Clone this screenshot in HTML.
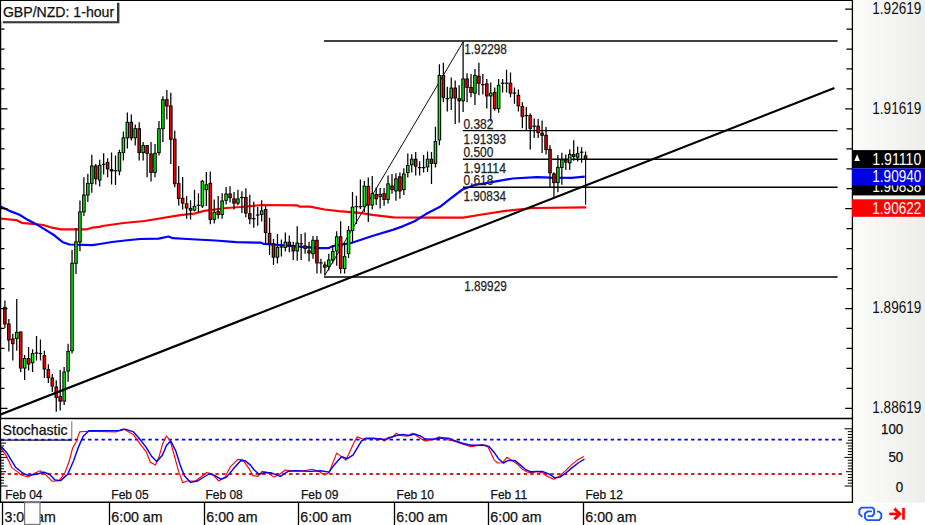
<!DOCTYPE html><html><head><meta charset="utf-8"><title>GBP/NZD 1-hour</title><style>
html,body{margin:0;padding:0;background:#fff;}
body{width:925px;height:525px;overflow:hidden;position:relative;}
svg{position:absolute;left:0;top:0;display:block;}
text{font-family:'Liberation Sans', Arial, sans-serif;}
.tx{stroke-width:0.25px;paint-order:stroke;}
</style></head><body>
<svg width="925" height="525" viewBox="0 0 925 525">
<defs><linearGradient id="axg" x1="0" y1="0" x2="1" y2="0"><stop offset="0" stop-color="#fcfcfb"/><stop offset="0.35" stop-color="#f7f7f6"/><stop offset="1" stop-color="#ededea"/></linearGradient><clipPath id="cp1"><rect x="852" y="185.2" width="73" height="10.2"/></clipPath></defs>
<rect x="853" y="0" width="72" height="502.5" fill="url(#axg)"/>
<polyline points="0,218.5 16.3,220.1 21.7,222.8 32.6,223.9 43.4,225 52.1,227.7 60.8,229.3 86.9,229.3 92.3,227.7 99.9,226.9 102.3,226 123.5,223 144.6,221 180,215.1 194,213.7 204,210.9 226.5,208 240.6,207 261.8,205 297,205.3 300,206.7 310,206.7 324.6,209.5 338.7,211.2 359.9,212.8 372.3,214.9 393.5,217.4 430,217.7 463.1,217.7 485.1,214 507.2,210.7 533,208 586.3,207.4" fill="none" stroke="#ff0000" stroke-width="2.2" stroke-linejoin="round"/>
<polyline points="0,206.2 10.9,211.4 19.5,214.7 28.2,220.1 35.8,223.9 45.6,229.9 54.3,235.3 63,242.3 69.5,244.5 92.3,245.1 99.9,244 112,242 125,240.5 140,239 158.7,238.6 168.6,236.5 172.8,238.2 187,239 215.3,240.5 236.4,242.2 261.2,242.7 264,243.9 319,248.1 328.9,248.1 333.1,246 351.2,243 372.3,236 393.5,229.6 403.3,226.1 414.6,221.2 425.9,214.1 440,206.8 450.4,198.7 462.5,189.5 474.6,185 491.9,182.1 512.7,178.5 536.9,177.1 550.7,177.6 571.5,177.8 584.8,176.6" fill="none" stroke="#0000ff" stroke-width="2.2" stroke-linejoin="round"/>
<g stroke="#000" stroke-width="1.4" fill="none">
<line x1="324.0" y1="41" x2="837.6" y2="41"/>
<line x1="324.0" y1="277" x2="837.6" y2="277"/>
<line x1="462.9" y1="130.6" x2="837.6" y2="130.6"/>
<line x1="462.9" y1="159.2" x2="837.6" y2="159.2"/>
<line x1="462.9" y1="187.2" x2="837.6" y2="187.2"/>
</g>
<line x1="324.8" y1="275.3" x2="463.2" y2="41.8" stroke="#000" stroke-width="0.95"/>
<path d="M4.9 300.4V328M8.85 319V351.4M12.8 333.8V360.6M16.75 299V350.7M20.7 331.4V372M24.65 355V380M28.6 347V370.5M32.55 349.3V371.9M36.5 336V360.6M40.45 339.4V360.6M44.4 350.7V378M48.35 364.3V383M52.3 373.9V392M56.25 380.3V411.7M60.2 370V410.6M64.15 367V405M68.1 343.7V381.7M72.05 249.9V353.5M76 228V273.9M79.95 200.6V251.3M83.9 177.3V216M87.85 173.8V202M91.8 154.8V192.8M95.75 164V184.4M99.7 159.7V186.5M103.65 153.3V174.5M107.6 158.3V177.3M111.55 152.6V184.4M115.5 155.5V185M119.45 149.8V175.2M123.4 131.5V160.4M127.35 112.4V148.4M131.3 114.6V140.6M135.25 124.4V145.6M139.2 122.3V160.4M143.15 142V160.4M147.1 144.9V177.3M151.05 142V181.6M155 144V177.3M158.95 120.9V155.5M162.9 96.2V142M166.85 89.9V119.5M170.8 92.7V164M174.75 130.8V187.2M178.7 166V205.5M182.65 177V209.5M186.6 196V218.7M190.55 200.3V219.4M194.5 189.7V211.6M198.45 193.3V212.3M202.4 180V208M206.35 172.1V206M210.3 171.4V224.3M214.25 199.6V223.6M218.2 196V218.7M222.15 193.3V218.7M226.1 186.9V204.6M230.05 186.2V202.4M234 191.9V209.5M237.95 189.7V205.3M241.9 191.2V213M245.85 188.3V217.2M249.8 194.7V224.3M253.75 201.7V227.8M257.7 206.7V225.7M261.65 200.3V221.5M265.6 206V243M269.55 217.8V255M273.5 238.9V265M277.45 234V263.6M281.4 239.6V256.5M285.35 232.6V251.6M289.3 235.4V252.3M293.25 241.7V260M297.2 226.2V260.8M301.15 234V260M305.1 232.6V253.7M309.05 241.7V261.5M313 236.1V258.7M316.95 236.1V273.5M320.9 258.7V273.5M324.85 261.5V275.6M328.8 253.7V270.6M332.75 245.3V263.6M336.7 231.2V265.7M340.65 221.2V273.5M344.6 242.4V273.5M348.55 226V258M352.5 191.9V242.3M356.45 195.8V224M360.4 179.6V209M364.35 181V212M368.3 177.5V222M372.25 176.1V209.5M376.2 187.4V205M380.15 188.1V208.5M384.1 188.1V205.7M388.05 175.4V203.6M392 174V193.7M395.95 173.3V200.8M399.9 172.6V198.7M403.85 168.3V195.1M407.8 153.5V177.5M411.75 154.2V172.6M415.7 152.1V175.4M419.65 161.3V175.4M423.6 154.9V172.6M427.55 151.4V171.9M431.5 152.1V183.9M435.45 126.8V167.6M439.4 64.2V145.3M443.35 62.8V102.2M447.3 86.7V111.4M451.25 77.6V110M455.2 80.4V124.1M459.15 85.3V122.7M463.1 42V112.1M467.05 73.3V102.2M471 74V97.3M474.95 69.1V105.1M478.9 62.8V95.2M482.85 74V94.5M486.8 79V108.6M490.75 82.5V121.3M494.7 87.4V110.7M498.65 79V112.8M502.6 79V92.4M506.55 69.8V92.4M510.5 72.6V97.3M514.45 87.4V103.7M518.4 89.6V111.4M522.35 102.2V128.3M526.3 107V130.4M530.25 113.5V149.4M534.2 118.4V138.1M538.15 119.1V138.1M542.1 120.5V153M546.05 126.9V154.4M550 145.2V186.9M553.95 172.3V196.7M557.9 154.9V192.3M561.85 152.7V184.7M565.8 154.4V169.9M569.75 149.4V169.9M573.7 140.3V160.7M577.65 146.6V161.4M581.6 147.3V162.8M585.55 151.5V159.3" stroke="#000" stroke-width="1.25" fill="none"/>
<rect x="3.1" y="306.9" width="3.6" height="17.5" fill="#000"/><rect x="4.2" y="307.85" width="1.4" height="15.6" fill="#ff0000"/><rect x="7.05" y="323.5" width="3.6" height="17" fill="#000"/><rect x="8.15" y="324.45" width="1.4" height="15.1" fill="#ff0000"/><rect x="11" y="338.5" width="3.6" height="5.7" fill="#000"/><rect x="12.1" y="339.45" width="1.4" height="3.8" fill="#ff0000"/><rect x="14.95" y="331.9" width="3.6" height="7" fill="#000"/><rect x="16.05" y="332.85" width="1.4" height="5.1" fill="#00ff00"/><rect x="18.9" y="331.5" width="3.6" height="37" fill="#000"/><rect x="20" y="332.45" width="1.4" height="35.1" fill="#ff0000"/><rect x="22.85" y="358" width="3.6" height="10.5" fill="#000"/><rect x="23.95" y="358.95" width="1.4" height="8.6" fill="#00ff00"/><rect x="26.8" y="358" width="3.6" height="6.5" fill="#000"/><rect x="27.9" y="358.95" width="1.4" height="4.6" fill="#ff0000"/><rect x="30.75" y="353" width="3.6" height="10.2" fill="#000"/><rect x="31.85" y="353.95" width="1.4" height="8.3" fill="#00ff00"/><rect x="34.7" y="352.4" width="3.6" height="1.2" fill="#000"/><rect x="38.65" y="352.9" width="3.6" height="1.2" fill="#000"/><rect x="42.6" y="355.1" width="3.6" height="14.4" fill="#000"/><rect x="43.7" y="356.05" width="1.4" height="12.5" fill="#ff0000"/><rect x="46.55" y="369.1" width="3.6" height="9" fill="#000"/><rect x="47.65" y="370.05" width="1.4" height="7.1" fill="#ff0000"/><rect x="50.5" y="377.5" width="3.6" height="9" fill="#000"/><rect x="51.6" y="378.45" width="1.4" height="7.1" fill="#ff0000"/><rect x="54.45" y="386.5" width="3.6" height="11.3" fill="#000"/><rect x="55.55" y="387.45" width="1.4" height="9.4" fill="#ff0000"/><rect x="58.4" y="396.1" width="3.6" height="5.5" fill="#000"/><rect x="59.5" y="397.05" width="1.4" height="3.6" fill="#ff0000"/><rect x="62.35" y="371.5" width="3.6" height="30" fill="#000"/><rect x="63.45" y="372.45" width="1.4" height="28.1" fill="#00ff00"/><rect x="66.3" y="350.9" width="3.6" height="20.6" fill="#000"/><rect x="67.4" y="351.85" width="1.4" height="18.7" fill="#00ff00"/><rect x="70.25" y="262.8" width="3.6" height="88.4" fill="#000"/><rect x="71.35" y="263.75" width="1.4" height="86.5" fill="#00ff00"/><rect x="74.2" y="241.4" width="3.6" height="22.4" fill="#000"/><rect x="75.3" y="242.35" width="1.4" height="20.5" fill="#00ff00"/><rect x="78.15" y="211.4" width="3.6" height="31" fill="#000"/><rect x="79.25" y="212.35" width="1.4" height="29.1" fill="#00ff00"/><rect x="82.1" y="194.5" width="3.6" height="17.9" fill="#000"/><rect x="83.2" y="195.45" width="1.4" height="16" fill="#00ff00"/><rect x="86.05" y="182.9" width="3.6" height="12.6" fill="#000"/><rect x="87.15" y="183.85" width="1.4" height="10.7" fill="#00ff00"/><rect x="90" y="165.5" width="3.6" height="18.4" fill="#000"/><rect x="91.1" y="166.45" width="1.4" height="16.5" fill="#00ff00"/><rect x="93.95" y="165.5" width="3.6" height="13.7" fill="#000"/><rect x="95.05" y="166.45" width="1.4" height="11.8" fill="#ff0000"/><rect x="97.9" y="164.8" width="3.6" height="15.7" fill="#000"/><rect x="99" y="165.75" width="1.4" height="13.8" fill="#00ff00"/><rect x="101.85" y="163.7" width="3.6" height="1.2" fill="#000"/><rect x="105.8" y="162" width="3.6" height="7.4" fill="#000"/><rect x="106.9" y="162.95" width="1.4" height="5.5" fill="#ff0000"/><rect x="109.75" y="169.1" width="3.6" height="2.4" fill="#000"/><rect x="113.7" y="170.1" width="3.6" height="1.2" fill="#000"/><rect x="117.65" y="152.1" width="3.6" height="19.4" fill="#000"/><rect x="118.75" y="153.05" width="1.4" height="17.5" fill="#00ff00"/><rect x="121.6" y="137.3" width="3.6" height="15.8" fill="#000"/><rect x="122.7" y="138.25" width="1.4" height="13.9" fill="#00ff00"/><rect x="125.55" y="121.8" width="3.6" height="16.5" fill="#000"/><rect x="126.65" y="122.75" width="1.4" height="14.6" fill="#00ff00"/><rect x="129.5" y="121.8" width="3.6" height="16.5" fill="#000"/><rect x="130.6" y="122.75" width="1.4" height="14.6" fill="#ff0000"/><rect x="133.45" y="128.2" width="3.6" height="10.1" fill="#000"/><rect x="134.55" y="129.15" width="1.4" height="8.2" fill="#00ff00"/><rect x="137.4" y="128.2" width="3.6" height="24.9" fill="#000"/><rect x="138.5" y="129.15" width="1.4" height="23" fill="#ff0000"/><rect x="141.35" y="145.1" width="3.6" height="8" fill="#000"/><rect x="142.45" y="146.05" width="1.4" height="6.1" fill="#00ff00"/><rect x="145.3" y="145.1" width="3.6" height="8.7" fill="#000"/><rect x="146.4" y="146.05" width="1.4" height="6.8" fill="#ff0000"/><rect x="149.25" y="153.5" width="3.6" height="19.4" fill="#000"/><rect x="150.35" y="154.45" width="1.4" height="17.5" fill="#ff0000"/><rect x="153.2" y="152.8" width="3.6" height="20.1" fill="#000"/><rect x="154.3" y="153.75" width="1.4" height="18.2" fill="#00ff00"/><rect x="157.15" y="128.2" width="3.6" height="24.9" fill="#000"/><rect x="158.25" y="129.15" width="1.4" height="23" fill="#00ff00"/><rect x="161.1" y="99.2" width="3.6" height="30" fill="#000"/><rect x="162.2" y="100.15" width="1.4" height="28.1" fill="#00ff00"/><rect x="165.05" y="99.2" width="3.6" height="7.3" fill="#000"/><rect x="166.15" y="100.15" width="1.4" height="5.4" fill="#ff0000"/><rect x="169" y="105.5" width="3.6" height="34.2" fill="#000"/><rect x="170.1" y="106.45" width="1.4" height="32.3" fill="#ff0000"/><rect x="172.95" y="138.7" width="3.6" height="45.5" fill="#000"/><rect x="174.05" y="139.65" width="1.4" height="43.6" fill="#ff0000"/><rect x="176.9" y="183.2" width="3.6" height="15.8" fill="#000"/><rect x="178" y="184.15" width="1.4" height="13.9" fill="#ff0000"/><rect x="180.85" y="197.7" width="3.6" height="5.9" fill="#000"/><rect x="181.95" y="198.65" width="1.4" height="4" fill="#ff0000"/><rect x="184.8" y="203.3" width="3.6" height="5.2" fill="#000"/><rect x="185.9" y="204.25" width="1.4" height="3.3" fill="#ff0000"/><rect x="188.75" y="207.9" width="3.6" height="2.8" fill="#000"/><rect x="189.85" y="208.85" width="1.4" height="0.9" fill="#ff0000"/><rect x="192.7" y="205.9" width="3.6" height="4.8" fill="#000"/><rect x="193.8" y="206.85" width="1.4" height="2.9" fill="#00ff00"/><rect x="196.65" y="204.7" width="3.6" height="1.2" fill="#000"/><rect x="200.6" y="180.8" width="3.6" height="25.7" fill="#000"/><rect x="201.7" y="181.75" width="1.4" height="23.8" fill="#00ff00"/><rect x="204.55" y="184.3" width="3.6" height="5.9" fill="#000"/><rect x="205.65" y="185.25" width="1.4" height="4" fill="#00ff00"/><rect x="208.5" y="182.9" width="3.6" height="37" fill="#000"/><rect x="209.6" y="183.85" width="1.4" height="35.1" fill="#ff0000"/><rect x="212.45" y="211.8" width="3.6" height="8.1" fill="#000"/><rect x="213.55" y="212.75" width="1.4" height="6.2" fill="#00ff00"/><rect x="216.4" y="211.1" width="3.6" height="3.8" fill="#000"/><rect x="217.5" y="212.05" width="1.4" height="1.9" fill="#ff0000"/><rect x="220.35" y="200.5" width="3.6" height="14.4" fill="#000"/><rect x="221.45" y="201.45" width="1.4" height="12.5" fill="#00ff00"/><rect x="224.3" y="193.5" width="3.6" height="7.3" fill="#000"/><rect x="225.4" y="194.45" width="1.4" height="5.4" fill="#00ff00"/><rect x="228.25" y="193.5" width="3.6" height="4.5" fill="#000"/><rect x="229.35" y="194.45" width="1.4" height="2.6" fill="#ff0000"/><rect x="232.2" y="198.4" width="3.6" height="5.2" fill="#000"/><rect x="233.3" y="199.35" width="1.4" height="3.3" fill="#ff0000"/><rect x="236.15" y="198.4" width="3.6" height="5.2" fill="#000"/><rect x="237.25" y="199.35" width="1.4" height="3.3" fill="#00ff00"/><rect x="240.1" y="196.9" width="3.6" height="1.2" fill="#000"/><rect x="244.05" y="197" width="3.6" height="16.5" fill="#000"/><rect x="245.15" y="197.95" width="1.4" height="14.6" fill="#ff0000"/><rect x="248" y="213.2" width="3.6" height="6" fill="#000"/><rect x="249.1" y="214.15" width="1.4" height="4.1" fill="#ff0000"/><rect x="251.95" y="218.1" width="3.6" height="1.2" fill="#000"/><rect x="255.9" y="214.4" width="3.6" height="1.2" fill="#000"/><rect x="259.85" y="210.4" width="3.6" height="4.5" fill="#000"/><rect x="260.95" y="211.35" width="1.4" height="2.6" fill="#00ff00"/><rect x="263.8" y="209" width="3.6" height="24.1" fill="#000"/><rect x="264.9" y="209.95" width="1.4" height="22.2" fill="#ff0000"/><rect x="267.75" y="232.8" width="3.6" height="11.6" fill="#000"/><rect x="268.85" y="233.75" width="1.4" height="9.7" fill="#ff0000"/><rect x="271.7" y="243.4" width="3.6" height="14.3" fill="#000"/><rect x="272.8" y="244.35" width="1.4" height="12.4" fill="#ff0000"/><rect x="275.65" y="246.9" width="3.6" height="10.8" fill="#000"/><rect x="276.75" y="247.85" width="1.4" height="8.9" fill="#00ff00"/><rect x="279.6" y="246.4" width="3.6" height="1.2" fill="#000"/><rect x="283.55" y="241.7" width="3.6" height="6.2" fill="#000"/><rect x="284.65" y="242.65" width="1.4" height="4.3" fill="#00ff00"/><rect x="287.5" y="241.7" width="3.6" height="4.1" fill="#000"/><rect x="288.6" y="242.65" width="1.4" height="2.2" fill="#ff0000"/><rect x="291.45" y="245.5" width="3.6" height="5.9" fill="#000"/><rect x="292.55" y="246.45" width="1.4" height="4" fill="#ff0000"/><rect x="295.4" y="242.6" width="3.6" height="8.8" fill="#000"/><rect x="296.5" y="243.55" width="1.4" height="6.9" fill="#00ff00"/><rect x="299.35" y="243.2" width="3.6" height="1.2" fill="#000"/><rect x="303.3" y="245.5" width="3.6" height="3.4" fill="#000"/><rect x="304.4" y="246.45" width="1.4" height="1.5" fill="#ff0000"/><rect x="307.25" y="250.4" width="3.6" height="3.1" fill="#000"/><rect x="308.35" y="251.35" width="1.4" height="1.2" fill="#ff0000"/><rect x="311.2" y="239.8" width="3.6" height="14.4" fill="#000"/><rect x="312.3" y="240.75" width="1.4" height="12.5" fill="#00ff00"/><rect x="315.15" y="239.8" width="3.6" height="23.6" fill="#000"/><rect x="316.25" y="240.75" width="1.4" height="21.7" fill="#ff0000"/><rect x="319.1" y="262.3" width="3.6" height="1.2" fill="#000"/><rect x="323.05" y="264.5" width="3.6" height="3.1" fill="#000"/><rect x="324.15" y="265.45" width="1.4" height="1.2" fill="#ff0000"/><rect x="327" y="259.5" width="3.6" height="7.4" fill="#000"/><rect x="328.1" y="260.45" width="1.4" height="5.5" fill="#00ff00"/><rect x="330.95" y="251.1" width="3.6" height="9.4" fill="#000"/><rect x="332.05" y="252.05" width="1.4" height="7.5" fill="#00ff00"/><rect x="334.9" y="236.3" width="3.6" height="15.1" fill="#000"/><rect x="336" y="237.25" width="1.4" height="13.2" fill="#00ff00"/><rect x="338.85" y="236.3" width="3.6" height="32.6" fill="#000"/><rect x="339.95" y="237.25" width="1.4" height="30.7" fill="#ff0000"/><rect x="342.8" y="256" width="3.6" height="13" fill="#000"/><rect x="343.9" y="256.95" width="1.4" height="11.1" fill="#00ff00"/><rect x="346.75" y="229.9" width="3.6" height="24.2" fill="#000"/><rect x="347.85" y="230.85" width="1.4" height="22.3" fill="#00ff00"/><rect x="350.7" y="206.7" width="3.6" height="24.3" fill="#000"/><rect x="351.8" y="207.65" width="1.4" height="22.4" fill="#00ff00"/><rect x="354.65" y="206.1" width="3.6" height="1.2" fill="#000"/><rect x="358.6" y="206.1" width="3.6" height="1.2" fill="#000"/><rect x="362.55" y="185.7" width="3.6" height="21.2" fill="#000"/><rect x="363.65" y="186.65" width="1.4" height="19.3" fill="#00ff00"/><rect x="366.5" y="185.9" width="3.6" height="19.6" fill="#000"/><rect x="367.6" y="186.85" width="1.4" height="17.7" fill="#ff0000"/><rect x="370.45" y="193.2" width="3.6" height="12.3" fill="#000"/><rect x="371.55" y="194.15" width="1.4" height="10.4" fill="#00ff00"/><rect x="374.4" y="193.9" width="3.6" height="5.3" fill="#000"/><rect x="375.5" y="194.85" width="1.4" height="3.4" fill="#ff0000"/><rect x="378.35" y="193.9" width="3.6" height="3.1" fill="#000"/><rect x="379.45" y="194.85" width="1.4" height="1.2" fill="#00ff00"/><rect x="382.3" y="193.2" width="3.6" height="6.7" fill="#000"/><rect x="383.4" y="194.15" width="1.4" height="4.8" fill="#ff0000"/><rect x="386.25" y="183.4" width="3.6" height="16.5" fill="#000"/><rect x="387.35" y="184.35" width="1.4" height="14.6" fill="#00ff00"/><rect x="390.2" y="185.5" width="3.6" height="4.5" fill="#000"/><rect x="391.3" y="186.45" width="1.4" height="2.6" fill="#ff0000"/><rect x="394.15" y="178.4" width="3.6" height="13" fill="#000"/><rect x="395.25" y="179.35" width="1.4" height="11.1" fill="#00ff00"/><rect x="398.1" y="176.3" width="3.6" height="15.1" fill="#000"/><rect x="399.2" y="177.25" width="1.4" height="13.2" fill="#ff0000"/><rect x="402.05" y="173.5" width="3.6" height="16.5" fill="#000"/><rect x="403.15" y="174.45" width="1.4" height="14.6" fill="#00ff00"/><rect x="406" y="165" width="3.6" height="8.1" fill="#000"/><rect x="407.1" y="165.95" width="1.4" height="6.2" fill="#00ff00"/><rect x="409.95" y="158.7" width="3.6" height="6.6" fill="#000"/><rect x="411.05" y="159.65" width="1.4" height="4.7" fill="#00ff00"/><rect x="413.9" y="158.7" width="3.6" height="8" fill="#000"/><rect x="415" y="159.65" width="1.4" height="6.1" fill="#ff0000"/><rect x="417.85" y="167" width="3.6" height="1.2" fill="#000"/><rect x="421.8" y="167" width="3.6" height="1.2" fill="#000"/><rect x="425.75" y="158.7" width="3.6" height="8.7" fill="#000"/><rect x="426.85" y="159.65" width="1.4" height="6.8" fill="#00ff00"/><rect x="429.7" y="158.7" width="3.6" height="5.2" fill="#000"/><rect x="430.8" y="159.65" width="1.4" height="3.3" fill="#ff0000"/><rect x="433.65" y="141" width="3.6" height="22.9" fill="#000"/><rect x="434.75" y="141.95" width="1.4" height="21" fill="#00ff00"/><rect x="437.6" y="75" width="3.6" height="65.4" fill="#000"/><rect x="438.7" y="75.95" width="1.4" height="63.5" fill="#00ff00"/><rect x="441.55" y="75" width="3.6" height="22.8" fill="#000"/><rect x="442.65" y="75.95" width="1.4" height="20.9" fill="#ff0000"/><rect x="445.5" y="98.1" width="3.6" height="1.2" fill="#000"/><rect x="449.45" y="87.6" width="3.6" height="10.9" fill="#000"/><rect x="450.55" y="88.55" width="1.4" height="9" fill="#00ff00"/><rect x="453.4" y="87.6" width="3.6" height="10.9" fill="#000"/><rect x="454.5" y="88.55" width="1.4" height="9" fill="#ff0000"/><rect x="457.35" y="98.2" width="3.6" height="3.1" fill="#000"/><rect x="458.45" y="99.15" width="1.4" height="1.2" fill="#ff0000"/><rect x="461.3" y="78.5" width="3.6" height="22.8" fill="#000"/><rect x="462.4" y="79.45" width="1.4" height="20.9" fill="#00ff00"/><rect x="465.25" y="78.5" width="3.6" height="9.4" fill="#000"/><rect x="466.35" y="79.45" width="1.4" height="7.5" fill="#ff0000"/><rect x="469.2" y="86.9" width="3.6" height="6" fill="#000"/><rect x="470.3" y="87.85" width="1.4" height="4.1" fill="#ff0000"/><rect x="473.15" y="75" width="3.6" height="18.6" fill="#000"/><rect x="474.25" y="75.95" width="1.4" height="16.7" fill="#00ff00"/><rect x="477.1" y="75.7" width="3.6" height="8" fill="#000"/><rect x="478.2" y="76.65" width="1.4" height="6.1" fill="#ff0000"/><rect x="481.05" y="84" width="3.6" height="1.2" fill="#000"/><rect x="485" y="83.4" width="3.6" height="13" fill="#000"/><rect x="486.1" y="84.35" width="1.4" height="11.1" fill="#ff0000"/><rect x="488.95" y="92.6" width="3.6" height="3.8" fill="#000"/><rect x="490.05" y="93.55" width="1.4" height="1.9" fill="#00ff00"/><rect x="492.9" y="91.9" width="3.6" height="17.2" fill="#000"/><rect x="494" y="92.85" width="1.4" height="15.3" fill="#ff0000"/><rect x="496.85" y="84.8" width="3.6" height="24.3" fill="#000"/><rect x="497.95" y="85.75" width="1.4" height="22.4" fill="#00ff00"/><rect x="500.8" y="82.6" width="3.6" height="1.2" fill="#000"/><rect x="504.75" y="82.6" width="3.6" height="1.2" fill="#000"/><rect x="508.7" y="82.7" width="3.6" height="10.9" fill="#000"/><rect x="509.8" y="83.65" width="1.4" height="9" fill="#ff0000"/><rect x="512.65" y="92.5" width="3.6" height="1.2" fill="#000"/><rect x="516.6" y="94.7" width="3.6" height="11.6" fill="#000"/><rect x="517.7" y="95.65" width="1.4" height="9.7" fill="#ff0000"/><rect x="520.55" y="106" width="3.6" height="10.8" fill="#000"/><rect x="521.65" y="106.95" width="1.4" height="8.9" fill="#ff0000"/><rect x="524.5" y="115" width="3.6" height="1.2" fill="#000"/><rect x="528.45" y="115.1" width="3.6" height="13.7" fill="#000"/><rect x="529.55" y="116.05" width="1.4" height="11.8" fill="#ff0000"/><rect x="532.4" y="125.6" width="3.6" height="1.2" fill="#000"/><rect x="536.35" y="125.7" width="3.6" height="7.3" fill="#000"/><rect x="537.45" y="126.65" width="1.4" height="5.4" fill="#ff0000"/><rect x="540.3" y="132.7" width="3.6" height="3.1" fill="#000"/><rect x="541.4" y="133.65" width="1.4" height="1.2" fill="#ff0000"/><rect x="544.25" y="134.8" width="3.6" height="15.1" fill="#000"/><rect x="545.35" y="135.75" width="1.4" height="13.2" fill="#ff0000"/><rect x="548.2" y="148.9" width="3.6" height="24.4" fill="#000"/><rect x="549.3" y="149.85" width="1.4" height="22.5" fill="#ff0000"/><rect x="552.15" y="173.4" width="3.6" height="9.7" fill="#000"/><rect x="553.25" y="174.35" width="1.4" height="7.8" fill="#ff0000"/><rect x="556.1" y="166.9" width="3.6" height="16.2" fill="#000"/><rect x="557.2" y="167.85" width="1.4" height="14.3" fill="#00ff00"/><rect x="560.05" y="159.3" width="3.6" height="8.6" fill="#000"/><rect x="561.15" y="160.25" width="1.4" height="6.7" fill="#00ff00"/><rect x="564" y="159.5" width="3.6" height="3.1" fill="#000"/><rect x="565.1" y="160.45" width="1.4" height="1.2" fill="#ff0000"/><rect x="567.95" y="153.9" width="3.6" height="9.4" fill="#000"/><rect x="569.05" y="154.85" width="1.4" height="7.5" fill="#00ff00"/><rect x="571.9" y="154.1" width="3.6" height="2.9" fill="#000"/><rect x="573" y="155.05" width="1.4" height="1" fill="#ff0000"/><rect x="575.85" y="153.2" width="3.6" height="4.5" fill="#000"/><rect x="576.95" y="154.15" width="1.4" height="2.6" fill="#00ff00"/><rect x="579.8" y="151.6" width="3.6" height="1.2" fill="#000"/><rect x="583.75" y="155.3" width="3.6" height="3.8" fill="#000"/><rect x="584.85" y="156.25" width="1.4" height="1.9" fill="#ff0000"/>
<line x1="585.6" y1="158.6" x2="585.6" y2="204.8" stroke="#000" stroke-width="1.1"/>
<line x1="0" y1="414.7" x2="834.4" y2="88.1" stroke="#000" stroke-width="2.15"/>
<g>
<text class="tx" x="464.3" y="54.2" font-size="14.8" textLength="42.6" lengthAdjust="spacingAndGlyphs" fill="#222" stroke="#222">1.92298</text>
<text class="tx" x="463.4" y="128.7" font-size="14.8" textLength="30.0" lengthAdjust="spacingAndGlyphs" fill="#222" stroke="#222">0.382</text>
<text class="tx" x="463.4" y="144.4" font-size="14.8" textLength="42.6" lengthAdjust="spacingAndGlyphs" fill="#222" stroke="#222">1.91393</text>
<text class="tx" x="463.4" y="156.9" font-size="14.8" textLength="30.0" lengthAdjust="spacingAndGlyphs" fill="#222" stroke="#222">0.500</text>
<text class="tx" x="463.4" y="172.8" font-size="14.8" textLength="42.6" lengthAdjust="spacingAndGlyphs" fill="#222" stroke="#222">1.91114</text>
<text class="tx" x="463.4" y="184.9" font-size="14.8" textLength="30.0" lengthAdjust="spacingAndGlyphs" fill="#222" stroke="#222">0.618</text>
<text class="tx" x="463.4" y="200.8" font-size="14.8" textLength="42.6" lengthAdjust="spacingAndGlyphs" fill="#222" stroke="#222">1.90834</text>
<text class="tx" x="464.2" y="290.8" font-size="14.8" textLength="42.6" lengthAdjust="spacingAndGlyphs" fill="#222" stroke="#222">1.89929</text>
</g>
<g stroke="#000" fill="none">
<line x1="0" y1="0.5" x2="852.9" y2="0.5" stroke-width="1.2"/>
<line x1="0.6" y1="0" x2="0.6" y2="502" stroke-width="1.3"/>
<line x1="852.4" y1="0" x2="852.4" y2="502.8" stroke-width="1.3"/>
<line x1="0" y1="418.5" x2="852.9" y2="418.5" stroke-width="1.5"/>
<line x1="0" y1="502.3" x2="852.9" y2="502.3" stroke-width="1.5"/>
</g>
<path d="M845.2 9.1H852M1 9.1H7.5M846.5 29.06H852M1 29.06H4.5M846.5 49.02H852M1 49.02H4.5M846.5 68.98H852M1 68.98H4.5M846.5 88.94H852M1 88.94H4.5M845.2 108.9H852M1 108.9H7.5M846.5 128.86H852M1 128.86H4.5M846.5 148.82H852M1 148.82H4.5M846.5 168.78H852M1 168.78H4.5M846.5 188.74H852M1 188.74H4.5M845.2 208.7H852M1 208.7H7.5M846.5 228.66H852M1 228.66H4.5M846.5 248.62H852M1 248.62H4.5M846.5 268.58H852M1 268.58H4.5M846.5 288.54H852M1 288.54H4.5M845.2 308.5H852M1 308.5H7.5M846.5 328.46H852M1 328.46H4.5M846.5 348.42H852M1 348.42H4.5M846.5 368.38H852M1 368.38H4.5M846.5 388.34H852M1 388.34H4.5M845.2 408.3H852M1 408.3H7.5" stroke="#000" stroke-width="1.25" fill="none"/>
<text x="872.3" y="13.8" font-size="15.6" textLength="49" lengthAdjust="spacingAndGlyphs" fill="#111">1.92619</text>
<text x="872.3" y="113.6" font-size="15.6" textLength="49" lengthAdjust="spacingAndGlyphs" fill="#111">1.91619</text>
<text x="872.3" y="313.2" font-size="15.6" textLength="49" lengthAdjust="spacingAndGlyphs" fill="#111">1.89619</text>
<text x="872.3" y="413" font-size="15.6" textLength="49" lengthAdjust="spacingAndGlyphs" fill="#111">1.88619</text>
<rect x="852" y="150.1" width="73" height="18.2" fill="#000"/>
<rect x="852" y="177.9" width="73" height="17.5" fill="#000"/>
<text x="872.3" y="165" font-size="15.6" textLength="49" lengthAdjust="spacingAndGlyphs" fill="#fff">1.91110</text>
<text x="872.3" y="192.3" font-size="15.6" textLength="49" lengthAdjust="spacingAndGlyphs" fill="#fff" clip-path="url(#cp1)">1.90838</text>
<rect x="852" y="168.3" width="73" height="16.9" fill="#0000e0"/>
<rect x="852" y="199.3" width="73" height="17.5" fill="#ff0000"/>
<text x="872.3" y="181.8" font-size="15.6" textLength="49" lengthAdjust="spacingAndGlyphs" fill="#fff">1.90940</text>
<text x="872.3" y="213.7" font-size="15.6" textLength="49" lengthAdjust="spacingAndGlyphs" fill="#fff">1.90622</text>
<path d="M854.3 160.9L857.1 154.2L859.9 160.9Z" fill="#fff"/>
<rect x="2.8" y="2.8" width="116.6" height="20.5" fill="#383838"/>
<rect x="1.2" y="1.2" width="115.8" height="20" fill="#fff"/>
<text class="tx" x="2.9" y="16.6" font-size="14.1" fill="#111" stroke="#111">GBP/NZD: 1-hour</text>
<path d="M844.5 428.8H852M1 428.8H7.5M847.8 431.66H852M1 431.66H4M847.8 434.52H852M1 434.52H4M847.8 437.38H852M1 437.38H4M847.8 440.24H852M1 440.24H4M846 443.1H852M1 443.1H6M847.8 445.96H852M1 445.96H4M847.8 448.82H852M1 448.82H4M847.8 451.68H852M1 451.68H4M847.8 454.54H852M1 454.54H4M844.5 457.4H852M1 457.4H7.5M847.8 460.26H852M1 460.26H4M847.8 463.12H852M1 463.12H4M847.8 465.98H852M1 465.98H4M847.8 468.84H852M1 468.84H4M846 471.7H852M1 471.7H6M847.8 474.56H852M1 474.56H4M847.8 477.42H852M1 477.42H4M847.8 480.28H852M1 480.28H4M847.8 483.14H852M1 483.14H4M844.5 486H852M1 486H7.5" stroke="#000" stroke-width="1" fill="none"/>
<rect x="2.6" y="421.2" width="69.6" height="19.6" fill="#303030"/>
<rect x="1.2" y="419.8" width="70.3" height="19.6" fill="#fff"/>
<text class="tx" x="2.6" y="434.7" font-size="14.1" fill="#111" stroke="#111">Stochastic</text>
<line x1="1" y1="439.7" x2="845" y2="439.7" stroke="#0000ee" stroke-width="1.8" stroke-dasharray="3.4 3.3"/>
<line x1="1" y1="474" x2="845" y2="474" stroke="#dd1a1a" stroke-width="1.8" stroke-dasharray="3.4 3.3"/>
<polyline points="1.4,448.8 6.3,455.9 12,467.9 16.9,471.4 21.2,475 28.2,477 33.9,473.5 40.2,470.7 45.1,474.2 52.2,481.3 59.2,480.6 64.9,472.8 69.1,461.5 72.6,448.1 76.2,441.8 79.7,431.9 87.4,431.2 115.7,431.9 122.7,429.1 125,429.8 133.5,434.7 140.5,444.6 146.2,451.7 150.4,462.2 155.3,465.1 158.9,457.3 162.4,444.6 166.3,435.9 170.1,440.4 174.4,455.9 178.6,471.4 182.8,482.7 187.1,481 195.5,481 206.8,472.5 212.4,474.2 218.8,481 225.1,477.1 230.1,467.2 237.8,459.4 242.8,459.9 249.1,468.6 252.8,475.6 257.8,476.4 262,471.4 266.9,472.1 274,477.1 279.6,474.2 285.3,470 292.3,470.7 303.6,470.7 312.1,469.3 319.1,471.4 324.8,475 329,472.8 336.7,453.1 345.9,460.1 354.4,441.8 357.2,436.9 362.8,439 369.9,439 374.1,438.3 376.9,440.4 380.6,438.3 384.2,441.1 388.4,437.3 392.6,436.9 396.2,433.3 400.4,435.5 407.4,436.2 412.4,433.3 417.3,436.2 421.5,439 425.1,441.1 434.2,439 439.2,436.9 444.1,439 454,441.1 462.4,443.9 470.9,446.7 482.2,444.6 487.8,446.7 490,451 494.2,460.1 497.8,463 502.7,462.7 506.9,457.3 511.2,459.9 516.8,463.7 522.4,469.3 527.4,472.1 532.3,472.8 536.5,471.4 542.9,472.8 545.7,475.6 553.5,479.2 559.1,476.4 564.8,471.4 571.1,465.1 577.4,460.1 583.8,456.6" fill="none" stroke="#ff0000" stroke-width="1.15" stroke-linejoin="round"/>
<polyline points="1.4,446.7 7,453.1 15.5,467.2 23.3,473.5 28.2,475.4 36.7,474.2 43.7,472.1 49.4,474.2 55,479.9 60.6,480.6 67.7,474.2 73.3,461.5 78.3,447.4 83.2,436.2 88.9,430.8 119.9,430.5 125,429.1 133.5,431.9 139.1,438.3 146.2,447.4 151.8,456.6 156.7,461.5 162.4,455.2 166.6,445.3 170.8,441.1 175.8,451 180,464.4 184.2,475.6 190.6,482.4 197.6,481 209.6,473.5 215.3,475.9 220.9,479.2 226.6,477.1 233.6,468.6 240.7,460.8 244.9,460.6 250.5,465.1 254.2,470 259.2,474.2 264.1,472.8 271.2,472.8 280.3,476.4 288.1,471.4 295.1,470.7 310.6,471.4 320.5,470.7 329,472.1 334.6,464.4 341.7,456.6 347.3,458.7 353,455.2 361.4,441.1 365.7,438.3 372.7,438.3 380,439 384.9,439.7 390.5,437.6 396.2,435.5 403.2,434.5 408.9,435.5 414.5,434 420.1,435.9 425.1,439 434.2,439.3 441.3,437.8 448.3,438.3 454,440.4 462.4,443.2 470.9,445.3 485,445.3 489.2,446.7 494.2,452.4 498.5,458.7 503.4,463 508.3,460.4 514.7,460.4 519.6,464.4 525.3,469.3 530.2,471.7 542.2,471.4 549.2,474.2 554.9,477.8 559.8,477.1 566.2,472.8 571.8,467.9 578.2,463 584.5,459" fill="none" stroke="#0000ff" stroke-width="1.45" stroke-linejoin="round"/>
<text class="tx" x="881" y="434.2" font-size="14.2" textLength="22.2" lengthAdjust="spacingAndGlyphs" fill="#111" stroke="#111">100</text>
<text class="tx" x="888.4" y="462" font-size="14.2" textLength="14.8" lengthAdjust="spacingAndGlyphs" fill="#111" stroke="#111">50</text>
<text class="tx" x="895.8" y="491.5" font-size="14.2" textLength="7.4" lengthAdjust="spacingAndGlyphs" fill="#111" stroke="#111">0</text>
<text class="tx" x="5.2" y="498.8" font-size="12" fill="#111" stroke="#111">Feb 04</text>
<text class="tx" x="111.3" y="498.8" font-size="12" fill="#111" stroke="#111">Feb 05</text>
<text class="tx" x="205.4" y="498.8" font-size="12" fill="#111" stroke="#111">Feb 08</text>
<text class="tx" x="301" y="498.8" font-size="12" fill="#111" stroke="#111">Feb 09</text>
<text class="tx" x="396.6" y="498.8" font-size="12" fill="#111" stroke="#111">Feb 10</text>
<text class="tx" x="490.6" y="498.8" font-size="12" fill="#111" stroke="#111">Feb 11</text>
<text class="tx" x="585.5" y="498.8" font-size="12" fill="#111" stroke="#111">Feb 12</text>
<path d="M2.5 502.5V525M109.5 502.5V525M204.5 502.5V525M298.5 502.5V525M394.5 502.5V525M488.5 502.5V525M583.5 502.5V525" stroke="#000" stroke-width="1.3" fill="none"/>
<text class="tx" x="4.5" y="522.4" font-size="14.2" fill="#111" stroke="#111">3:00 am</text>
<text class="tx" x="111.3" y="522.4" font-size="14.2" fill="#111" stroke="#111">6:00 am</text>
<text class="tx" x="206.3" y="522.4" font-size="14.2" fill="#111" stroke="#111">6:00 am</text>
<text class="tx" x="300.3" y="522.4" font-size="14.2" fill="#111" stroke="#111">6:00 am</text>
<text class="tx" x="396.3" y="522.4" font-size="14.2" fill="#111" stroke="#111">6:00 am</text>
<text class="tx" x="490.3" y="522.4" font-size="14.2" fill="#111" stroke="#111">6:00 am</text>
<text class="tx" x="585.3" y="522.4" font-size="14.2" fill="#111" stroke="#111">6:00 am</text>
<rect x="24.6" y="502.6" width="15.4" height="21.8" fill="#fff" stroke="#777" stroke-width="1.2"/>
<g fill="none" stroke="#1656ff" stroke-width="1.9" stroke-linejoin="round" stroke-linecap="round"><path d="M861.8 516.4L859.3 514.1V510L861.4 507.6H872.5L874.1 509.4V513.8L872.3 516.1H868.3"/><path d="M871.2 511.4H867.6L865 513.6V518.1L867.2 520.1H879.2L881.3 517.7V513.8L879.2 511.6H877.7"/></g>
<g stroke="#ff0000" fill="none"><path d="M889.3 513.9H899.5" stroke-width="2.7"/><path d="M894.4 508.6L899.9 513.9L894.4 519.2" stroke-width="2.9"/><path d="M903.5 507.9V519.7" stroke-width="2.7"/></g>
</svg></body></html>
